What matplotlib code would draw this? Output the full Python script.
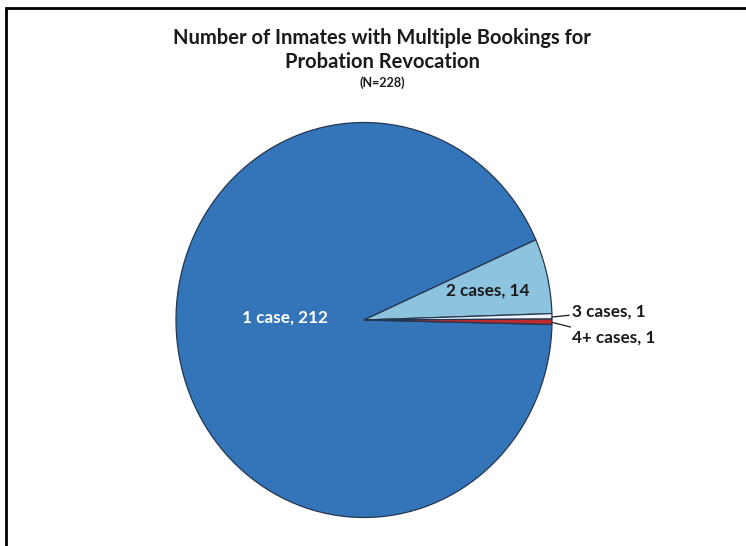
import matplotlib
matplotlib.use("Agg")
import matplotlib.pyplot as plt
from matplotlib.patches import Rectangle

plt.rcParams["font.family"] = ["Lato", "DejaVu Sans"]

# data
categories = ["1 case", "2 cases", "3 cases", "4+ cases"]
counts = [212, 14, 1, 1]
slice_colors = ["#3474B8", "#8CC3DF", "#EEF3F8", "#BE2A2E"]
n_total = 228

W, H = 746, 546
fig = plt.figure(figsize=(W / 100, H / 100), dpi=100)
fig.patch.set_facecolor("white")

ax = fig.add_axes([0, 0, 1, 1])
wedges, _ = ax.pie(
    counts,
    colors=slice_colors,
    startangle=-1.3,
    counterclock=False,
    wedgeprops=dict(edgecolor="#24364f", linewidth=0.9),
)

# pie is slightly taller than wide in the reference
cx, cy = 364, 546 - 320
rx, ry = 188, 197.5
ax.set_aspect("auto")
ax.set_xlim(-cx / rx, (W - cx) / rx)
ax.set_ylim(-cy / ry, (H - cy) / ry)
ax.axis("off")

lab = [f"{c}, {v}" for c, v in zip(categories, counts)]
ax.text(-0.42, 0.015, lab[0], color="white", fontsize=12.3, fontweight="bold",
        ha="center", va="center")
ax.text(0.66, 0.147, lab[1], color="#1a1a1a", fontsize=12.3, fontweight="bold",
        ha="center", va="center")

for i, (xy, xt) in enumerate([((1.0, 0.015), (1.106, 0.045)),
                             ((1.0, -0.012), (1.106, -0.09))]):
    ax.annotate(lab[i + 2], xy=xy, xytext=xt, fontsize=12.3, fontweight="bold",
                color="#1a1a1a", ha="left", va="center",
                arrowprops=dict(arrowstyle="-", color="#1a1a1a", lw=0.9,
                                shrinkA=0, shrinkB=0))

tx = 382 / W
fig.text(tx, 1 - 38 / H, "Number of Inmates with Multiple Bookings for",
         ha="center", va="center", fontsize=14.5, fontweight="bold", color="#1a1a1a")
fig.text(tx, 1 - 62 / H, "Probation Revocation",
         ha="center", va="center", fontsize=14.5, fontweight="bold", color="#1a1a1a")
fig.text(tx, 1 - 83 / H, f"(N={n_total})",
         ha="center", va="center", fontsize=9, fontweight="bold", color="#1a1a1a")

# frame (only top and left edges visible in the crop)
fig.add_artist(Rectangle((5.5 / W, -0.1), 1.2, 1.1 - 7.5 / H,
                         transform=fig.transFigure, fill=False,
                         edgecolor="black", linewidth=2))

fig.savefig("out.png", dpi=100, facecolor="white")
